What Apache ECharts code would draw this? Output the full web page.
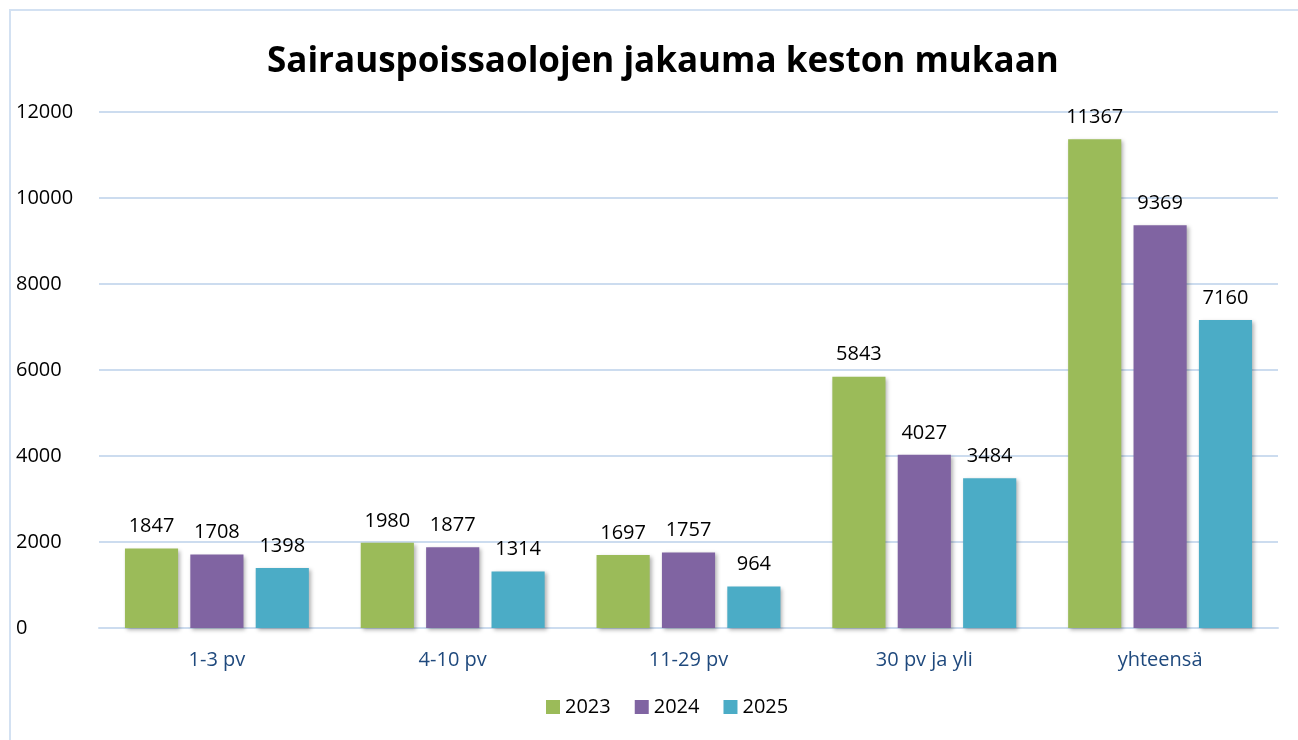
<!DOCTYPE html>
<html>
<head>
<meta charset="utf-8">
<script src="https://cdn.jsdelivr.net/npm/echarts@6/dist/echarts.min.js"></script>
<style>
    html, body { margin: 0; padding: 0; background: #fff; }
    #frame { position: absolute; left: 9px; top: 9px; width: 1400px; height: 800px; border: 2px solid #d3e1f2; }
    #chart { position: absolute; left: 0; top: 0; width: 1298px; height: 740px; }
</style>
</head>
<body>
<div id="frame"></div>
<div id="chart"></div>
<script>
var categories = ['1-3 pv', '4-10 pv', '11-29 pv', '30 pv ja yli', 'yhteensä'];
var years = ['2023', '2024', '2025'];
var values_2023 = [1847, 1980, 1697, 5843, 11367];
var values_2024 = [1708, 1877, 1757, 4027, 9369];
var values_2025 = [1398, 1314, 964, 3484, 7160];
var colors = ['#9bbb59', '#8064a2', '#4bacc6'];

var chart = echarts.init(document.getElementById('chart'));

/* Build the three bar series. */
var seriesData = [values_2023, values_2024, values_2025];
var series = seriesData.map(function (data, i) {
    return {
        name: years[i],
        type: 'bar',
        data: data,
        barGap: '23%',
        barCategoryGap: '22%',
        itemStyle: {
            color: colors[i],
            shadowColor: 'rgba(0,0,0,0.3)',
            shadowBlur: 4,
            shadowOffsetX: 2,
            shadowOffsetY: 2
        },
        label: {
            show: true,
            position: 'top',
            distance: 12,
            color: '#000',
            fontSize: 20,
            fontFamily: 'Open Sans'
        }
    };
});

var option = {
    animation: false,
    color: colors,
    title: {
        text: 'Sairauspoissaolojen jakauma keston mukaan',
        left: 262,
        top: 40,
        textStyle: {
            fontFamily: 'Open Sans',
            fontSize: 35,
            fontWeight: 'bold',
            color: '#000'
        }
    },
    legend: {
        data: years,
        bottom: 18,
        left: 541,
        itemWidth: 14,
        itemHeight: 14,
        itemGap: 24,
        icon: 'rect',
        textStyle: {
            fontFamily: 'Open Sans',
            fontSize: 20,
            color: '#000'
        }
    },
    grid: {
        left: 99,
        right: 20,
        top: 112,
        bottom: 112
    },
    xAxis: {
        type: 'category',
        data: categories,
        axisTick: { show: false },
        axisLine: { lineStyle: { color: '#ccdcef', width: 2 } },
        axisLabel: {
            margin: 22,
            fontFamily: 'Open Sans',
            fontSize: 20,
            color: '#1f497d'
        }
    },
    yAxis: {
        type: 'value',
        min: 0,
        max: 12000,
        interval: 2000,
        axisLine: { show: false },
        axisTick: { show: false },
        splitLine: { lineStyle: { color: '#ccdcef', width: 2 } },
        axisLabel: {
            align: 'left',
            margin: 83,
            formatter: function (v) { return String(v); },
            fontFamily: 'Open Sans',
            fontSize: 20,
            color: '#000'
        }
    },
    series: series
};
chart.setOption(option);

/* Responsiveness. */
window.addEventListener('resize', function () {
    chart.resize();
});
</script>
</body>
</html>
